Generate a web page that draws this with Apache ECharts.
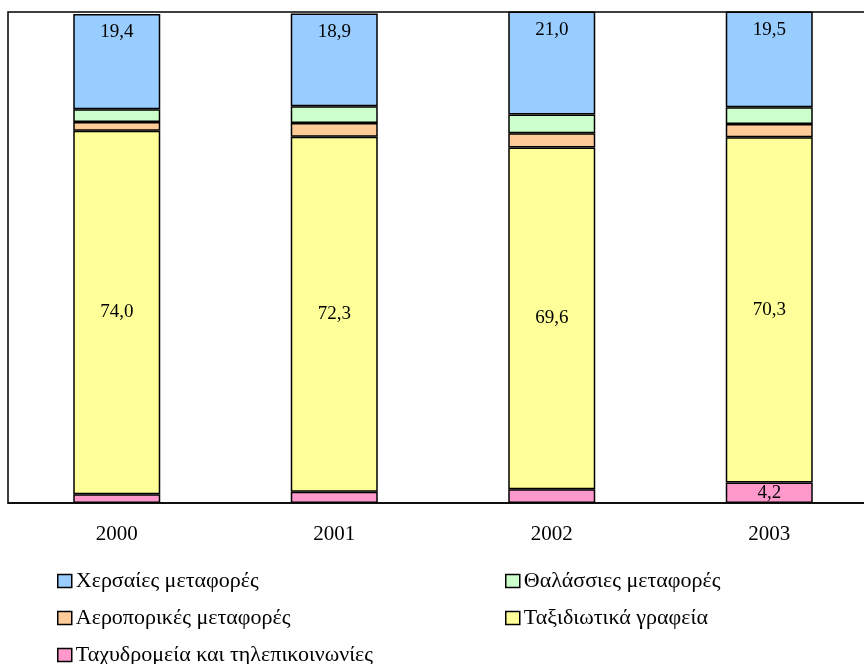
<!DOCTYPE html>
<html>
<head>
<meta charset="utf-8">
<script src="https://cdn.jsdelivr.net/npm/echarts@6/dist/echarts.min.js"></script>
<style>
  html, body { margin: 0; padding: 0; background: #fff; }
  #main { width: 864px; height: 664px; }
</style>
</head>
<body>
<div id="main"></div>
<script>
// δεδομένα (%)
const years = ['2000', '2001', '2002', '2003'];
const xersaies = [19.4, 18.9, 21.0, 19.5];
const thalassies = [2.6, 3.4, 3.8, 3.4];
const aeroporikes = [1.8, 2.8, 2.9, 2.7];
const taxidiotika = [74.0, 72.3, 69.6, 70.3];
const taxydromeia = [1.8, 2.3, 2.8, 4.2];

const names = [
  'Χερσαίες μεταφορές',
  'Θαλάσσιες μεταφορές',
  'Αεροπορικές μεταφορές',
  'Ταξιδιωτικά γραφεία',
  'Ταχυδρομεία και τηλεπικοινωνίες'
];
const colors = ['#99CCFF', '#CCFFCC', '#FFCC99', '#FFFF99', '#FF99CC'];

const font = 'Liberation Serif';
const fmt = p => p.value.toFixed(1).replace('.', ',');

const myChart = echarts.init(document.getElementById('main'));

const barBase = (i, data) => ({
  name: names[i],
  type: 'bar',
  stack: 'total',
  barCategoryGap: '60%',
  data: data,
  itemStyle: { color: colors[i], borderColor: '#000', borderWidth: 1.5 },
  emphasis: { disabled: true }
});

// λεζάντα σε δύο στήλες
const legendPos = [
  { left: 57, top: 570 },
  { left: 505, top: 570 },
  { left: 57, top: 607 },
  { left: 505, top: 607 },
  { left: 57, top: 644 }
];
const legends = names.map((n, i) => ({
  data: [n],
  left: legendPos[i].left,
  top: legendPos[i].top,
  padding: 0,
  icon: 'rect',
  itemWidth: 14,
  itemHeight: 13,
  itemGap: 5,
  selectedMode: false,
  itemStyle: { borderColor: '#000', borderWidth: 1.5 },
  textStyle: { fontFamily: font, fontSize: 22, color: '#000', padding: [0, 0, 0, -1] }
}));

myChart.setOption({
  animation: false,
  color: colors,
  legend: legends,
  grid: {
    left: 8,
    width: 870,
    top: 12,
    bottom: 161,
    outerBoundsMode: 'none',
    containLabel: false,
    show: true,
    borderColor: '#000',
    borderWidth: 1.5
  },
  xAxis: {
    type: 'category',
    data: years,
    axisLine: { lineStyle: { color: '#000', width: 1.5 } },
    axisTick: { length: 7, lineStyle: { color: '#000' } },
    axisLabel: { fontFamily: font, fontSize: 21, color: '#000', margin: 21 }
  },
  yAxis: {
    type: 'value',
    min: 0,
    max: 100,
    show: false,
    splitLine: { show: false }
  },
  series: [
    Object.assign(barBase(4, taxydromeia.map((v, j) => j === 3
      ? { value: v, label: { show: true } }
      : v)), {
      label: { show: false, position: 'inside', formatter: fmt, fontFamily: font, fontSize: 19, color: '#000' }
    }),
    Object.assign(barBase(3, taxidiotika), {
      label: { show: true, position: 'inside', formatter: fmt, fontFamily: font, fontSize: 19, color: '#000' }
    }),
    barBase(2, aeroporikes),
    barBase(1, thalassies),
    Object.assign(barBase(0, xersaies), {
      label: { show: true, position: 'insideTop', distance: 9, formatter: fmt, fontFamily: font, fontSize: 19, color: '#000' }
    })
  ]
});
</script>
</body>
</html>
